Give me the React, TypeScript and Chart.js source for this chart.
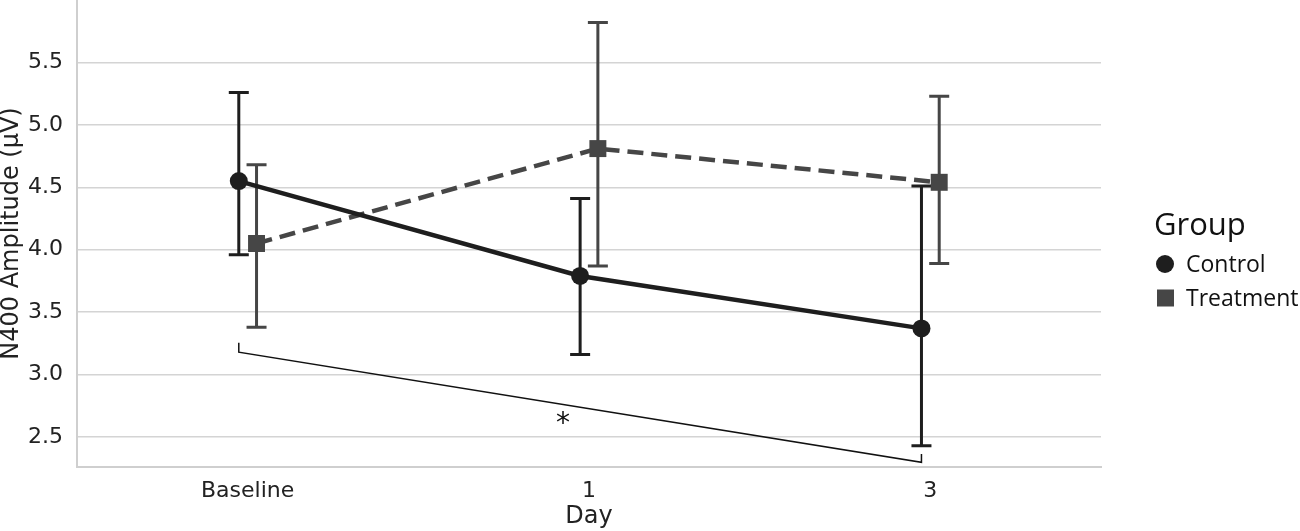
import { useEffect, useRef } from 'react';
import { Chart, registerables } from 'chart.js';

Chart.register(...registerables);

const days = ['Baseline', '1', '3'];
const controlMean = [4.55, 3.79, 3.37];
const controlLow = [3.96, 3.16, 2.43];
const controlHigh = [5.26, 4.41, 4.51];
const treatmentMean = [4.05, 4.81, 4.54];
const treatmentLow = [3.38, 3.87, 3.89];
const treatmentHigh = [4.68, 5.82, 5.23];
const yTicks = [2.5, 3.0, 3.5, 4.0, 4.5, 5.0, 5.5];

// significance bracket: Control, Baseline vs Day 3
const bracketDays = [0, 2];
const bracketStartY = [3.256, 3.18];
const bracketEndY = [2.298, 2.365];
const starPos = [0.924, 2.656];

const DODGE = 0.026;
const CONTROL = '#1e1e1e';
const TREAT = '#464646';
const TICK_FONT = { family: 'DejaVu Sans', size: 22 };
const TITLE_FONT = { family: 'DejaVu Sans', size: 24 };

const errorBars = {
  id: 'errorBars',
  beforeDatasetsDraw(chart) {
    const { ctx, scales } = chart;
    chart.data.datasets.forEach((ds, i) => {
      const meta = chart.getDatasetMeta(i);
      ctx.save();
      ctx.strokeStyle = ds.borderColor;
      ctx.lineWidth = 3;
      meta.data.forEach((pt, j) => {
        const x = pt.x;
        const y1 = scales.y.getPixelForValue(ds.low[j]);
        const y2 = scales.y.getPixelForValue(ds.high[j]);
        ctx.beginPath();
        ctx.moveTo(x, y1);
        ctx.lineTo(x, y2);
        ctx.moveTo(x - 10, y1);
        ctx.lineTo(x + 10, y1);
        ctx.moveTo(x - 10, y2);
        ctx.lineTo(x + 10, y2);
        ctx.stroke();
      });
      ctx.restore();
    });
  },
  afterDatasetsDraw(chart) {
    const { ctx, scales } = chart;
    const xa = scales.x.getPixelForValue(bracketDays[0] - DODGE);
    const xb = scales.x.getPixelForValue(bracketDays[1] - DODGE);
    ctx.save();
    ctx.strokeStyle = '#111';
    ctx.lineWidth = 1.5;
    ctx.beginPath();
    ctx.moveTo(xa, scales.y.getPixelForValue(bracketStartY[0]));
    ctx.lineTo(xa, scales.y.getPixelForValue(bracketStartY[1]));
    ctx.lineTo(xb, scales.y.getPixelForValue(bracketEndY[0]));
    ctx.lineTo(xb, scales.y.getPixelForValue(bracketEndY[1]));
    ctx.stroke();
    ctx.fillStyle = '#111';
    ctx.font = '28px "DejaVu Sans"';
    ctx.textAlign = 'center';
    ctx.textBaseline = 'middle';
    ctx.fillText('*', scales.x.getPixelForValue(starPos[0]), scales.y.getPixelForValue(starPos[1]) + 7);
    ctx.restore();
  },
};

const groupLegend = {
  id: 'groupLegend',
  afterDraw(chart) {
    const { ctx } = chart;
    const left = 1155;
    ctx.save();
    ctx.fillStyle = '#111';
    ctx.textAlign = 'left';
    ctx.textBaseline = 'alphabetic';
    ctx.font = '31px "Open Sans"';
    ctx.fillText('Group', left - 1, 235);
    ctx.font = '23px "Open Sans"';
    chart.data.datasets.forEach((ds, i) => {
      const cy = 264 + i * 34;
      ctx.fillStyle = ds.pointBackgroundColor;
      if (ds.pointStyle === 'circle') {
        ctx.beginPath();
        ctx.arc(left + 10, cy, 9, 0, Math.PI * 2);
        ctx.fill();
      } else {
        ctx.fillRect(left + 2, cy - 8.5, 17, 17);
      }
      ctx.fillStyle = '#111';
      ctx.fillText(ds.label, left + 31, cy + 8);
    });
    ctx.restore();
  },
};

export default function App() {
  const canvasRef = useRef(null);

  useEffect(() => {
    if (!canvasRef.current) return;

    const chart = new Chart(canvasRef.current, {
      type: 'line',
      data: {
        datasets: [
          {
            label: 'Control',
            data: controlMean.map((v, i) => ({ x: i - DODGE, y: v })),
            low: controlLow,
            high: controlHigh,
            borderColor: CONTROL,
            borderWidth: 4.5,
            pointStyle: 'circle',
            pointRadius: 9,
            pointBackgroundColor: CONTROL,
            pointBorderColor: CONTROL,
            pointBorderWidth: 0,
          },
          {
            label: 'Treatment',
            data: treatmentMean.map((v, i) => ({ x: i + DODGE, y: v })),
            low: treatmentLow,
            high: treatmentHigh,
            borderColor: TREAT,
            borderWidth: 4.5,
            borderDash: [16, 8],
            pointStyle: 'rect',
            pointRadius: 12,
            pointBackgroundColor: TREAT,
            pointBorderColor: TREAT,
            pointBorderWidth: 0,
          },
        ],
      },
      options: {
        animation: false,
        responsive: true,
        maintainAspectRatio: false,
        layout: { autoPadding: false, padding: { left: 0, top: 0, right: 199, bottom: 0 } },
        plugins: { legend: { display: false }, tooltip: { enabled: false } },
        scales: {
          x: {
            type: 'linear',
            min: -0.5,
            max: 2.5,
            afterBuildTicks: (s) => {
              s.ticks = days.map((_, i) => ({ value: i }));
            },
            afterFit: (s) => {
              s.height = 64;
              s.paddingLeft = 0;
              s.paddingRight = 0;
            },
            grid: { display: false, drawTicks: false },
            border: { display: true, color: '#cfcfcf', width: 2 },
            ticks: {
              font: TICK_FONT,
              color: '#222',
              padding: 11,
              maxRotation: 0,
              callback: (v, i) => days[i],
            },
            title: {
              display: true,
              text: 'Day',
              font: TITLE_FONT,
              color: '#222',
              padding: { top: 0, bottom: 0 },
            },
          },
          y: {
            min: 2.26,
            max: 6.0,
            afterBuildTicks: (s) => {
              s.ticks = yTicks.map((v) => ({ value: v }));
            },
            afterFit: (s) => {
              s.width = 77;
              s.paddingTop = 0;
              s.paddingBottom = 0;
            },
            grid: { color: '#d4d4d4', lineWidth: 1.5, drawTicks: false },
            border: { display: true, color: '#cfcfcf', width: 2 },
            ticks: {
              font: TICK_FONT,
              color: '#222',
              padding: 14,
              callback: (v) => Number(v).toFixed(1),
            },
            title: {
              display: true,
              text: 'N400 Amplitude (μV)',
              font: TITLE_FONT,
              color: '#222',
              padding: { top: -3, bottom: 0 },
            },
          },
        },
      },
      plugins: [errorBars, groupLegend],
    });

    return () => chart.destroy();
  }, []);

  return (
    <div style={{ position: 'absolute', left: 0, top: 0, width: 1300, height: 531 }}>
      <canvas ref={canvasRef} />
    </div>
  );
}
